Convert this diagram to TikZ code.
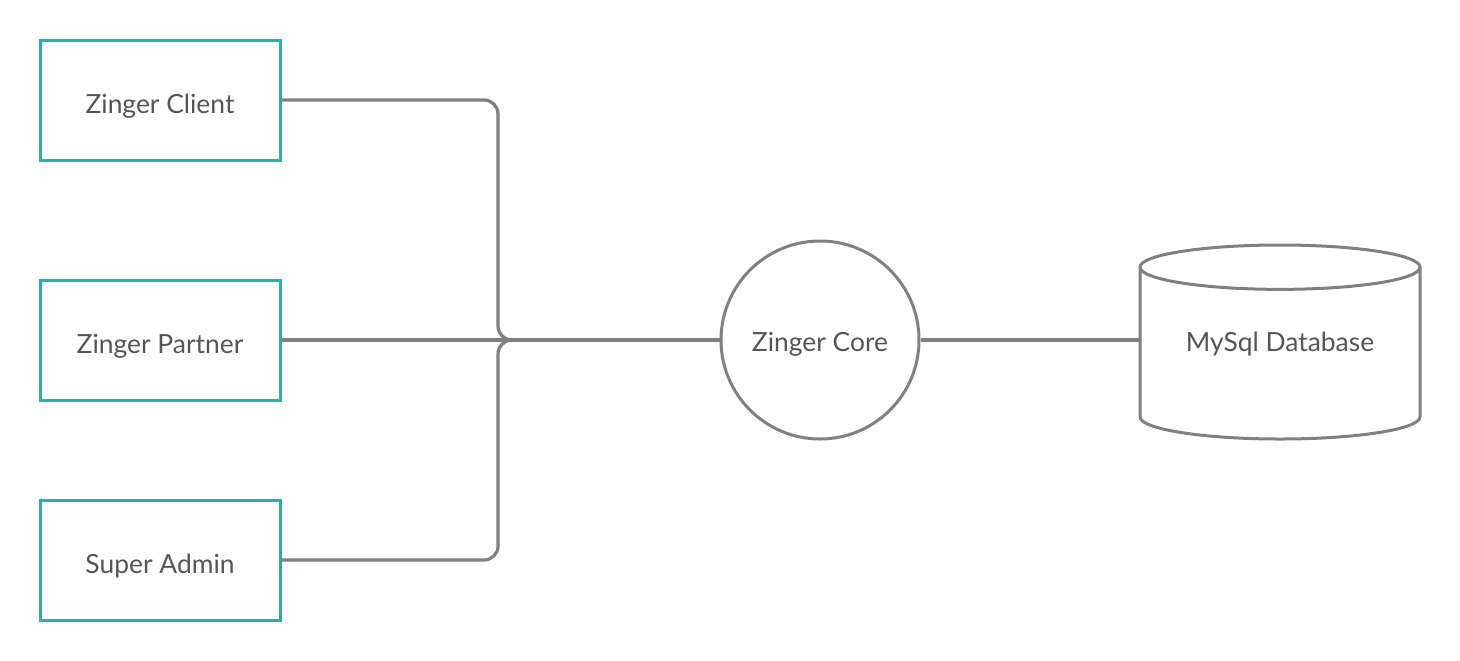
\documentclass[tikz,border=0pt]{standalone}
\usepackage{fontspec}
\setmainfont{Lato}
\usetikzlibrary{shapes.geometric}
\definecolor{boxteal}{RGB}{38,176,170}
\definecolor{wiregray}{RGB}{128,128,128}
\definecolor{textgray}{RGB}{85,85,85}
\tikzset{
  client/.style={draw=boxteal, line width=1.5pt, minimum width=120pt, minimum height=60pt,
    text height=16pt, text depth=2.5pt, text=textgray, font=\fontsize{13.2}{15}\selectfont},
  core/.style={circle, draw=wiregray, line width=1.5pt, minimum size=99pt,
    text height=14pt, text depth=2.5pt, text=textgray, font=\fontsize{13.2}{15}\selectfont},
  store/.style={cylinder, shape border rotate=90, aspect=0.22, draw=wiregray, line width=1.5pt,
    minimum width=140pt, minimum height=97pt, text height=9.5pt, text depth=15.5pt,
    text=textgray, font=\fontsize{13.2}{15}\selectfont},
  wire/.style={draw=wiregray, line width=1.6pt, rounded corners=7pt}
}
\begin{document}
\begin{tikzpicture}[x=0.5pt,y=-0.5pt]
  \useasboundingbox (0,0) rectangle (1460,660);
  \node[client] (zclient) at (160,100) {Zinger Client};
  \node[client] (zpartner) at (160,340) {Zinger Partner};
  \node[client] (sadmin) at (160,560) {Super Admin};
  \node[core] (zcore) at (820,340) {Zinger Core};
  \node[store, anchor=shape center] (mysql) at (1280,342) {MySql Database};
  \coordinate (bus) at (498,340);
  \coordinate (merge) at (700,340);
  \begin{scope}[wire]
    \draw (zclient.east) -| (bus) -- (merge);
    \draw (sadmin.east) -| (bus) -- (merge);
    \draw (zpartner) -- (zcore);
    \draw (zcore) -- (mysql.west |- zcore);
  \end{scope}
\end{tikzpicture}
\end{document}
